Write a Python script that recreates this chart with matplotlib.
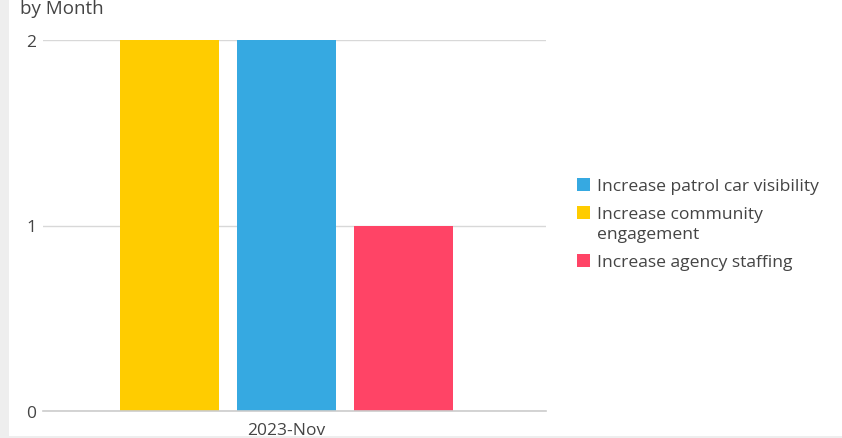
import matplotlib
matplotlib.use("Agg")
import matplotlib.pyplot as plt
from matplotlib.patches import Rectangle

categories = ["2023-Nov"]
series_names = ["Increase community\nengagement", "Increase patrol car visibility", "Increase agency staffing"]
series_values = [[2], [2], [1]]
series_colors = ["#FFCC00", "#36A9E1", "#FF4466"]
legend_order = [1, 0, 2]
yticks = [0, 1, 2]

plt.rcParams['font.family'] = ['Open Sans', 'DejaVu Sans']

W, H = 842, 439
fig = plt.figure(figsize=(W/100, H/100), dpi=100)
ax = fig.add_axes([43/W, 1-412/H, (546-43)/W, (412-41)/H])

offsets = [-1, 0, 1]
for i, (vals, col) in enumerate(zip(series_values, series_colors)):
    xs = [c + offsets[i] for c in range(len(categories))]
    ax.bar(xs, vals, width=0.846, color=col, zorder=3, linewidth=0)

ax.set_xlim(-2.077, 2.222)
ax.set_ylim(0, 2)
ax.set_yticks(yticks)
ax.set_yticklabels([str(t) for t in yticks], fontsize=12.5, color="#444444")
ax.set_xticks(range(len(categories)))
ax.set_xticklabels(categories, fontsize=12.5, color="#444444")
ax.tick_params(axis='both', length=0)
ax.tick_params(axis='y', pad=5)
ax.tick_params(axis='x', pad=8)
ax.grid(axis='y', color="#d8d8d8", linewidth=1, zorder=0)
ax.set_axisbelow(True)
for s in ax.spines.values():
    s.set_visible(False)
ax.axhline(0, color="#cccccc", linewidth=1.2, zorder=4, clip_on=False)

fig.text(20/W, 1-9/H, "by Month", fontsize=13.5, color="#444444", va="center", ha="left")

# legend drawn manually
leg_y = [185, 213, 261]
for k, i in enumerate(legend_order):
    yc = leg_y[k]
    fig.patches.append(Rectangle((577/W, 1-(yc+6.5)/H), 13/W, 13/H, transform=fig.transFigure,
                                 facecolor=series_colors[i], edgecolor='none'))
    fig.text(597/W, 1-(yc-6)/H, series_names[i], fontsize=12.6, color="#444444",
             va="top", ha="left", linespacing=1.3)

# page decorations
fig.patches.append(Rectangle((0, 0), 9/W, 1, transform=fig.transFigure, facecolor="#eeeeee", edgecolor='none', zorder=-1))
fig.patches.append(Rectangle((0, 0), 1, 2/H, transform=fig.transFigure, facecolor="#eeeeee", edgecolor='none', zorder=-1))

fig.savefig("out.png", dpi=100)
